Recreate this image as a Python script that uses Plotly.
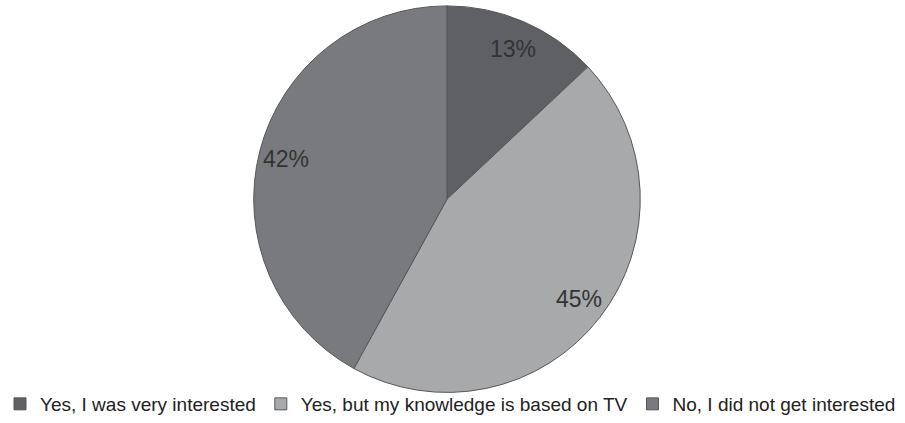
import math
import plotly.graph_objects as go

# Survey answers and their shares (percent)
categories = [
    "Yes, I was very interested",
    "Yes, but my knowledge is based on TV",
    "No, I did not get interested",
]
shares = [13, 45, 42]
slice_colors = ["#5e6063", "#a8a9ab", "#797a7d"]

FONT = "Liberation Sans Narrow, Arial Narrow, Liberation Sans, Arial, sans-serif"
W, H = 905, 423

# Pie geometry in pixels (center and radius)
cx, cy, r = 447, 203, 197

fig = go.Figure(
    go.Pie(
        labels=categories,
        values=shares,
        sort=False,
        direction="clockwise",
        rotation=0,
        textinfo="none",
        hoverinfo="label+percent",
        marker=dict(colors=slice_colors, line=dict(color="#55575a", width=1)),
        domain=dict(
            x=[(cx - r) / W, (cx + r) / W],
            y=[1 - (cy + r) / H, 1 - (cy - r) / H],
        ),
    )
)

# Percentage labels placed at each slice's mid-angle
total = sum(shares)
annotations = []
cum = 0
for v in shares:
    mid = (cum + v / 2) / total * 2 * math.pi
    cum += v
    rr = 0.845 * r
    px = cx + rr * math.sin(mid)
    py = cy - rr * math.cos(mid)
    annotations.append(
        dict(
            x=px / W,
            y=1 - py / H,
            xref="paper",
            yref="paper",
            text=f"{round(v / total * 100)}%",
            showarrow=False,
            font=dict(family=FONT, size=23, color="#333333"),
            xanchor="center",
            yanchor="middle",
        )
    )

fig.update_layout(
    width=W,
    height=H,
    margin=dict(l=0, r=0, t=0, b=0),
    paper_bgcolor="white",
    plot_bgcolor="white",
    annotations=annotations,
    showlegend=True,
    legend=dict(
        orientation="h",
        x=0.0,
        xanchor="left",
        y=1 - 412 / H,
        yanchor="middle",
        font=dict(family=FONT, size=19, color="#222222"),
        bgcolor="rgba(0,0,0,0)",
        itemwidth=30,
        traceorder="normal",
    ),
)

fig.write_html("out.html")
